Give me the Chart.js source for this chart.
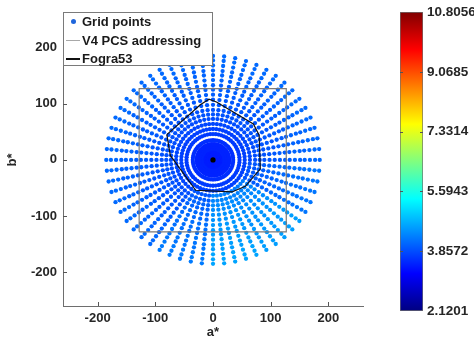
<!DOCTYPE html>
<html>
<head>
<meta charset="utf-8">
<script src="https://cdn.jsdelivr.net/npm/chart.js@4.4.1/dist/chart.umd.min.js"></script>
<style>
  html, body { margin: 0; padding: 0; background: #fff; }
  #wrap { position: relative; width: 474px; height: 340px; overflow: hidden; }
  #main { position: absolute; left: 0; top: 0; }
  #bar { position: absolute; left: 390px; top: 0; }
  #legend {
    position: absolute; left: 63px; top: 12px; width: 150px; height: 54px;
    box-sizing: border-box; border: 1px solid #7a7a7a; background: #fff;
    font: bold 13px "Liberation Sans", Arial, sans-serif; color: #1a1a1a;
  }
  #legend .txt { position: absolute; left: 18px; height: 16px; line-height: 16px; white-space: nowrap; }
  #legend .dot { position: absolute; left: 7px; width: 5px; height: 5px; border-radius: 50%; background: #1f66dc; }
  #legend .ln { position: absolute; left: 2px; width: 14px; }
</style>
</head>
<body>
<div id="wrap">
  <canvas id="main" width="474" height="340"></canvas>
  <canvas id="bar" width="84" height="340"></canvas>
  <div id="legend">
    <div class="dot" style="top:6px"></div><div class="txt" style="top:1px">Grid points</div>
    <div class="ln" style="top:27px;height:1px;background:#a8a8a8"></div><div class="txt" style="top:20px">V4 PCS addressing</div>
    <div class="ln" style="top:45px;height:2px;background:#111"></div><div class="txt" style="top:38px">Fogra53</div>
  </div>
</div>
<script>
// polar grid of a*/b* points: ring radii and spoke angles (degrees)
const ringRadii = [0, 4, 8, 12, 16, 20, 24, 28, 35, 46, 55, 64, 73, 81, 89, 98, 107, 116, 125, 133, 142, 151, 159, 168, 177, 185];
const ringValues = [3.45, 3.45, 3.45, 3.45, 3.45, 3.5, 3.5, 3.5, 3.6, 3.7, 3.75, 3.8, 3.85, 3.9, 3.9, 3.95, 3.95, 4.0, 4.0, 4.0, 4.05, 4.05, 4.05, 4.1, 4.1, 4.1];
const spokeAngles = [0, 6, 12, 18, 24, 30, 36, 42, 48, 54, 60, 66, 72, 78, 84, 90, 96, 102, 108, 114,
  120, 126, 132, 138, 144, 150, 156, 162, 168, 174, 180, 186, 192, 198, 204, 210, 216, 222, 228, 234,
  240, 246, 252, 258, 264, 270, 276, 282, 288, 294, 300, 306, 312, 318, 324, 330, 336, 342, 348, 354];
// lighter (higher value) patch in the lower right, per 30 degree sector, outer rings only
const sectorLift = [0, 0, 0, 0, 0, 0, 0, 0, 0.15, 0.5, 0.45, 0.1];
const liftFromRing = 11;

// V4 PCS addressing square
const pcsA = [-128, 127, 127, -128, -128];
const pcsB = [-128, -128, 127, 127, -128];

// Fogra53 gamut outline
const fograA = [-80, -22, -7, 6, 70, 80, 82, 56, 33, -30, -74, -80];
const fograB = [45, 98, 108, 103, 64, 44, -16, -47, -57, -54, 8, 45];

const axisTicks = [-200, -100, 0, 100, 200];
const cbMin = 2.1201, cbMax = 10.8056;
const cbTicks = [2.1201, 3.8572, 5.5943, 7.3314, 9.0685, 10.8056];
const cbLabels = ['2.1201', '3.8572', '5.5943', '7.3314', '9.0685', '10.8056'];

const FONT = '"Liberation Sans", Arial, sans-serif';

function jet(v) {
    const t = (v - cbMin) / (cbMax - cbMin);
    const c = x => Math.round(255 * Math.min(1, Math.max(0, 1.5 - Math.abs(4 * t - x))));
    return `rgb(${c(3)},${c(2)},${c(1)})`;
}

const gridPoints = [];
const gridColors = [];
ringRadii.forEach((r, i) => {
    spokeAngles.forEach(deg => {
        const rad = deg * Math.PI / 180;
        gridPoints.push({ x: r * Math.cos(rad), y: r * Math.sin(rad) });
        const lift = i >= liftFromRing ? sectorLift[Math.floor(deg / 30)] : 0;
        gridColors.push(jet(ringValues[i] + lift));
    });
});

const toXY = (xs, ys) => xs.map((x, i) => ({ x: x, y: ys[i] }));

// MATLAB style inward tick marks
const inwardTicks = {
    id: 'inwardTicks',
    afterDraw(chart) {
        const { ctx, chartArea, scales } = chart;
        ctx.save();
        ctx.strokeStyle = '#555';
        ctx.lineWidth = 1;
        ctx.beginPath();
        axisTicks.forEach(v => {
            const px = Math.round(scales.x.getPixelForValue(v)) + 0.5;
            ctx.moveTo(px, chartArea.bottom);
            ctx.lineTo(px, chartArea.bottom - 4);
            const py = Math.round(scales.y.getPixelForValue(v)) + 0.5;
            ctx.moveTo(chartArea.left, py);
            ctx.lineTo(chartArea.left + 4, py);
        });
        ctx.stroke();
        ctx.restore();
    }
};

const axisBase = {
    type: 'linear',
    min: -260,
    max: 260,
    grid: { display: false, drawTicks: false },
    border: { display: true, color: '#6e6e6e', width: 1 },
    ticks: { font: { family: FONT, size: 13, weight: 'bold' }, color: '#262626' },
    afterBuildTicks: s => { s.ticks = axisTicks.map(v => ({ value: v })); }
};

new Chart(document.getElementById('main'), {
    type: 'scatter',
    data: {
        datasets: [{
            label: 'Neutral',
            data: [{ x: 0, y: 0 }],
            pointRadius: 2.6,
            pointBackgroundColor: '#000',
            pointBorderWidth: 0,
            order: 0
        }, {
            label: 'Fogra53',
            data: toXY(fograA, fograB),
            showLine: true,
            borderColor: '#111',
            borderWidth: 1.2,
            pointRadius: 0,
            order: 1
        }, {
            label: 'V4 PCS addressing',
            data: toXY(pcsA, pcsB),
            showLine: true,
            borderColor: '#7a7a7a',
            borderWidth: 1.2,
            pointRadius: 0,
            order: 2
        }, {
            label: 'Grid points',
            data: gridPoints,
            pointRadius: 2.15,
            pointBackgroundColor: gridColors,
            pointBorderWidth: 0,
            order: 3
        }]
    },
    options: {
        responsive: false,
        animation: false,
        layout: { padding: { left: 0, top: 10, right: 111, bottom: 0 } },
        plugins: { legend: { display: false }, tooltip: { enabled: false } },
        scales: {
            x: {
                ...axisBase,
                ticks: { ...axisBase.ticks, padding: 5 },
                title: { display: true, text: 'a*', font: { family: FONT, size: 13, weight: 'bold' }, color: '#262626', padding: { top: 0, bottom: 0 } },
                afterFit: s => { s.height = 34; }
            },
            y: {
                ...axisBase,
                ticks: { ...axisBase.ticks, padding: 6 },
                title: { display: true, text: 'b*', font: { family: FONT, size: 13, weight: 'bold' }, color: '#262626', padding: { top: 5, bottom: 0 } },
                afterFit: s => { s.width = 63; }
            }
        }
    },
    plugins: [inwardTicks]
});

// colour bar
const jetStops = [[0, '#000080'], [0.125, '#0000ff'], [0.375, '#00ffff'], [0.625, '#ffff00'], [0.875, '#ff0000'], [1, '#800000']];

const barTicks = {
    id: 'barTicks',
    afterDraw(chart) {
        const { ctx, chartArea, scales } = chart;
        ctx.save();
        ctx.strokeStyle = '#555';
        ctx.lineWidth = 1;
        ctx.beginPath();
        cbTicks.slice(1, -1).forEach(v => {
            const py = Math.round(scales.y.getPixelForValue(v)) + 0.5;
            ctx.moveTo(chartArea.left, py);
            ctx.lineTo(chartArea.left + 3, py);
            ctx.moveTo(chartArea.right, py);
            ctx.lineTo(chartArea.right - 3, py);
        });
        ctx.stroke();
        ctx.restore();
    }
};

new Chart(document.getElementById('bar'), {
    type: 'bar',
    data: {
        labels: [''],
        datasets: [{
            data: [[cbMin, cbMax]],
            backgroundColor: ctx => {
                const area = ctx.chart.chartArea;
                if (!area) return '#0000ff';
                const g = ctx.chart.ctx.createLinearGradient(0, area.bottom, 0, area.top);
                jetStops.forEach(([t, c]) => g.addColorStop(t, c));
                return g;
            },
            borderColor: '#6e6e6e',
            borderWidth: 1,
            borderSkipped: false,
            barPercentage: 1,
            categoryPercentage: 1
        }]
    },
    options: {
        responsive: false,
        animation: false,
        layout: { padding: { left: 10, top: 11, right: 0, bottom: 29 } },
        plugins: { legend: { display: false }, tooltip: { enabled: false } },
        scales: {
            x: { display: false },
            y: {
                position: 'right',
                min: cbMin,
                max: cbMax,
                grid: { display: false, drawTicks: false },
                border: { display: false },
                ticks: {
                    padding: 4,
                    font: { family: FONT, size: 13.5, weight: 'bold' },
                    color: '#262626',
                    callback: (v, i) => cbLabels[i]
                },
                afterBuildTicks: s => { s.ticks = cbTicks.map(v => ({ value: v })); },
                afterFit: s => { s.width = 51; }
            }
        }
    },
    plugins: [barTicks]
});
</script>
</body>
</html>
